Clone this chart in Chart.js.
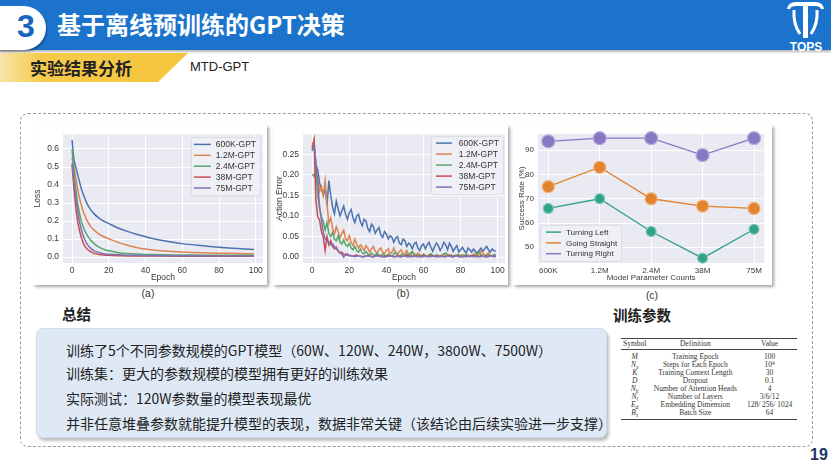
<!DOCTYPE html>
<html><head><meta charset="utf-8">
<script src="https://cdn.jsdelivr.net/npm/chart.js@4.4.1/dist/chart.umd.min.js"></script>
<style>
*{margin:0;padding:0;box-sizing:border-box}
body{width:831px;height:469px;overflow:hidden;background:#fff;font-family:"Noto Sans CJK SC","Noto Sans",sans-serif;position:relative}
.abs{position:absolute}
#topbar{left:0;top:0;width:831px;height:50px;background:#1b73cb;box-shadow:0 2px 2px rgba(0,0,0,0.28)}
#pill{left:-25px;top:6px;width:71px;height:44px;background:#fff;border-radius:22px;box-shadow:1px 2px 2px rgba(0,0,0,0.3)}
#num{left:12px;top:4px;width:28px;height:44px;font:bold 32px "Liberation Sans",Arial,sans-serif;color:#1864bf;line-height:44px;text-align:center}
#title{left:57px;top:8px;font-weight:bold;font-size:24px;color:#fff;line-height:32px;white-space:nowrap}
#tab{left:0;top:53px;width:188px;height:29px;background:linear-gradient(90deg,#f6e5a8 0%,#f5cb4c 22%,#f5c43a 100%);clip-path:polygon(0 0,188px 0,158px 100%,0 100%)}
#tabtxt{left:30px;top:53px;height:29px;line-height:29px;font-weight:bold;font-size:17px;color:#222;white-space:nowrap}
#sub{left:190px;top:59px;font:13px "Liberation Sans",Arial,sans-serif;color:#222}
#dash{left:20px;top:113px;width:793px;height:334px;border:1.5px dashed #9c9c9c;border-radius:8px}
.panel{background:#fff;box-shadow:2px 2px 3px rgba(0,0,0,0.35)}
.cap{font:10.5px "Liberation Sans",Arial,sans-serif;color:#333;width:40px;text-align:center;line-height:12px}
.h2{font-weight:bold;font-size:14.5px;color:#222;line-height:20px;white-space:nowrap}
#sumbox{left:36px;top:328px;width:571px;height:110px;background:#dfe9f6;border-radius:7px;box-shadow:2px 3px 3px rgba(0,0,0,0.25);border:1px solid #cddbed}
.line{left:66px;font-size:14px;color:#222;line-height:18px;white-space:nowrap}
#tbl{left:621px;top:338px;width:176px;height:82px;font-family:"Liberation Serif","DejaVu Serif",serif;font-size:7.5px;color:#333}
.rule{position:absolute;left:0;width:176px;background:#444}
.row{position:absolute;left:0;width:176px;height:8px;line-height:8px;display:flex;white-space:nowrap}
.c1{width:28px;text-align:center;font-style:italic}
.c2{width:96px;text-align:center}
.c3{width:56px;text-align:center}
.row.hd .c1{font-style:normal}
.sb{font-size:5.5px;position:relative;top:2px}
.sp{font-size:5.5px;position:relative;top:-2.5px}
#pg{left:810px;top:446px;font:bold 16px "Liberation Sans",Arial,sans-serif;color:#1d3763}
</style></head>
<body>
<div id="topbar" class="abs"></div>
<div id="pill" class="abs"></div>
<div id="num" class="abs">3</div>
<div id="title" class="abs">基于离线预训练的GPT决策</div>
<svg class="abs" style="left:780px;top:0" width="51" height="56" viewBox="0 0 51 56">
  <path d="M7,9 Q8,2 16,2 L35,2 Q43,2 44,9 L41,9 Q40,6 35,6 L16,6 Q11,6 10,9 Z" fill="#fff"/>
  <rect x="23" y="2" width="5" height="36" fill="#fff"/>
  <path d="M14,10 Q13,24 20,34" stroke="#fff" stroke-width="3" fill="none"/>
  <path d="M37,10 Q38,24 31,34" stroke="#fff" stroke-width="3" fill="none"/>
  <text x="26" y="51" text-anchor="middle" font-family="Liberation Sans, Arial" font-weight="bold" font-size="12" fill="#fff">TOPS</text>
</svg>
<div id="tab" class="abs"></div>
<div id="tabtxt" class="abs">实验结果分析</div>
<div id="sub" class="abs">MTD-GPT</div>
<div id="dash" class="abs"></div>

<div class="abs panel" style="left:33px;top:125px;width:234px;height:160px"><canvas id="ca" width="234" height="160"></canvas></div>
<div class="abs panel" style="left:273px;top:125px;width:235px;height:160px"><canvas id="cb" width="235" height="160"></canvas></div>
<div class="abs panel" style="left:513px;top:125px;width:259px;height:160px"><canvas id="cc" width="259" height="160"></canvas></div>
<div class="abs cap" style="left:128px;top:287px">(a)</div>
<div class="abs cap" style="left:383px;top:287px">(b)</div>
<div class="abs cap" style="left:632px;top:289px">(c)</div>

<div class="abs h2" style="left:62px;top:304px">总结</div>
<div id="sumbox" class="abs"></div>
<div class="abs line" style="top:341px">训练了5个不同参数规模的GPT模型（60W、120W、240W，3800W、7500W）</div>
<div class="abs line" style="top:364px">训练集：更大的参数规模的模型拥有更好的训练效果</div>
<div class="abs line" style="top:389px">实际测试：120W参数量的模型表现最优</div>
<div class="abs line" style="top:414px">并非任意堆叠参数就能提升模型的表现，数据非常关键（该结论由后续实验进一步支撑）</div>

<div class="abs h2" style="left:613px;top:305px">训练参数</div>
<div id="tbl" class="abs">
  <div class="rule" style="top:0;height:1px"></div>
  <div class="row hd" style="top:2px"><span class="c1">Symbol</span><span class="c2">Definition</span><span class="c3">Value</span></div>
  <div class="rule" style="top:11px;height:0.6px"></div>
  <div class="row" style="top:15px"><span class="c1">M</span><span class="c2">Training Epoch</span><span class="c3">100</span></div>
  <div class="row" style="top:23px"><span class="c1">N<span class="sb">s</span></span><span class="c2">Steps for Each Epoch</span><span class="c3">10<span class="sp">4</span></span></div>
  <div class="row" style="top:31px"><span class="c1">K</span><span class="c2">Training Context Length</span><span class="c3">30</span></div>
  <div class="row" style="top:39px"><span class="c1">D</span><span class="c2">Dropout</span><span class="c3">0.1</span></div>
  <div class="row" style="top:47px"><span class="c1">N<span class="sb">h</span></span><span class="c2">Number of Attention Heads</span><span class="c3">4</span></div>
  <div class="row" style="top:55px"><span class="c1">N<span class="sb">l</span></span><span class="c2">Number of Layers</span><span class="c3">3/6/12</span></div>
  <div class="row" style="top:63px"><span class="c1">E<span class="sb">d</span></span><span class="c2">Embedding Dimension</span><span class="c3">128/ 256/ 1024</span></div>
  <div class="row" style="top:71px"><span class="c1">B<span class="sb">s</span></span><span class="c2">Batch Size</span><span class="c3">64</span></div>
  <div class="rule" style="top:81px;height:1px"></div>
</div>
<div id="pg" class="abs">19</div>

<script>
// ---------- Data ----------
const modelNames = ['600K-GPT','1.2M-GPT','2.4M-GPT','38M-GPT','75M-GPT'];
const seriesColors = ['#4c72b0','#dd8452','#55a868','#c44e52','#8172b3'];

// (a) training loss
const lossEpochs = [0,1,2,3,4,5,6,7,8,10,12,14,16,18,20,25,30,35,40,45,50,60,70,80,90,99];
const loss600K = [0.650,0.540,0.500,0.460,0.420,0.380,0.350,0.325,0.300,0.265,0.240,0.222,0.207,0.196,0.186,0.162,0.143,0.127,0.113,0.101,0.091,0.075,0.064,0.055,0.048,0.043];
const loss1_2M = [0.550,0.500,0.440,0.380,0.330,0.290,0.255,0.230,0.205,0.172,0.150,0.133,0.120,0.110,0.102,0.082,0.066,0.054,0.045,0.039,0.034,0.028,0.024,0.022,0.020,0.019];
const loss2_4M = [0.600,0.470,0.380,0.300,0.245,0.200,0.170,0.145,0.125,0.095,0.075,0.060,0.049,0.041,0.035,0.025,0.020,0.017,0.015,0.014,0.013,0.012,0.011,0.011,0.010,0.010];
const loss38M  = [0.510,0.380,0.280,0.200,0.150,0.110,0.080,0.060,0.047,0.030,0.021,0.016,0.013,0.011,0.010,0.008,0.007,0.007,0.006,0.006,0.006,0.005,0.005,0.005,0.005,0.005];
const loss75M  = [0.520,0.420,0.330,0.260,0.200,0.155,0.120,0.095,0.075,0.050,0.035,0.027,0.022,0.018,0.016,0.013,0.011,0.010,0.009,0.009,0.008,0.008,0.007,0.007,0.007,0.007];
const lossXTicks = [0,20,40,60,80,100];
const lossYTicks = [0,0.1,0.2,0.3,0.4,0.5,0.6];

// (b) action error
const errEpochs = Array.from({length:100},(_,i)=>i);
const err600K = [
0.270,0.282,0.225,0.212,0.180,0.165,0.150,0.168,0.125,0.186,
0.150,0.122,0.105,0.136,0.118,0.100,0.112,0.124,0.104,0.092,
0.108,0.116,0.096,0.084,0.100,0.104,0.086,0.076,0.092,0.088,
0.070,0.062,0.080,0.074,0.058,0.066,0.072,0.054,0.048,0.062,
0.056,0.044,0.052,0.048,0.036,0.046,0.050,0.034,0.030,0.044,
0.040,0.026,0.034,0.030,0.020,0.032,0.036,0.022,0.016,0.028,
0.032,0.020,0.030,0.036,0.024,0.014,0.026,0.034,0.028,0.016,
0.024,0.036,0.030,0.018,0.034,0.026,0.014,0.022,0.028,0.012,
0.018,0.024,0.016,0.010,0.022,0.018,0.012,0.020,0.014,0.010,
0.016,0.022,0.014,0.020,0.026,0.018,0.012,0.020,0.016,0.014];
const err1_2M = [
0.268,0.286,0.205,0.192,0.160,0.172,0.150,0.186,0.128,0.082,
0.096,0.070,0.056,0.074,0.062,0.046,0.058,0.066,0.044,0.040,
0.052,0.036,0.028,0.044,0.032,0.022,0.030,0.024,0.016,0.028,
0.022,0.012,0.020,0.026,0.014,0.010,0.018,0.022,0.012,0.008,
0.016,0.020,0.008,0.012,0.022,0.010,0.006,0.014,0.018,0.006,
0.010,0.016,0.006,0.004,0.012,0.008,0.004,0.010,0.006,0.003,
0.008,0.004,0.002,0.006,0.008,0.003,0.002,0.006,0.004,0.002,
0.005,0.008,0.003,0.002,0.006,0.004,0.002,0.005,0.003,0.002,
0.004,0.006,0.003,0.002,0.005,0.003,0.002,0.006,0.010,0.004,
0.008,0.016,0.010,0.004,0.006,0.010,0.004,0.002,0.006,0.004];
const err2_4M = [
0.202,0.196,0.212,0.150,0.118,0.098,0.086,0.066,0.084,0.058,
0.050,0.060,0.044,0.040,0.052,0.036,0.032,0.042,0.030,0.026,
0.034,0.022,0.018,0.026,0.016,0.012,0.020,0.010,0.008,0.014,
0.008,0.005,0.010,0.006,0.004,0.009,0.005,0.003,0.007,0.004,
0.003,0.007,0.004,0.002,0.008,0.012,0.005,0.003,0.006,0.003,
0.005,0.008,0.004,0.010,0.014,0.006,0.003,0.005,0.004,0.003,
0.006,0.003,0.002,0.005,0.008,0.004,0.002,0.005,0.003,0.002,
0.004,0.007,0.010,0.006,0.003,0.005,0.003,0.002,0.005,0.006,
0.003,0.002,0.004,0.006,0.003,0.002,0.005,0.004,0.002,0.008,
0.012,0.006,0.003,0.002,0.004,0.006,0.003,0.002,0.006,0.005];
const err38M = [
0.262,0.284,0.140,0.098,0.090,0.062,0.048,0.016,0.050,0.030,
0.040,0.026,0.020,0.024,0.014,0.010,0.012,0.006,0.004,0.008,
0.005,0.003,0.002,0.004,0.005,0.003,0.002,0.001,0.002,0.003,
0.004,0.003,0.002,0.001,0.002,0.003,0.004,0.002,0.001,0.001,
0.002,0.004,0.003,0.002,0.001,0.002,0.003,0.002,0.001,0.002,
0.003,0.004,0.002,0.001,0.001,0.002,0.003,0.002,0.001,0.002,
0.003,0.002,0.001,0.002,0.004,0.003,0.001,0.001,0.002,0.003,
0.002,0.001,0.002,0.003,0.004,0.002,0.001,0.002,0.003,0.002,
0.001,0.001,0.002,0.003,0.002,0.001,0.002,0.004,0.003,0.001,
0.002,0.003,0.002,0.001,0.001,0.002,0.003,0.002,0.001,0.002];
const err75M = [
0.258,0.272,0.230,0.180,0.122,0.090,0.060,0.045,0.038,0.036,
0.030,0.032,0.026,0.020,0.016,0.012,0.006,0.000,0.008,0.005,
0.003,0.004,0.002,0.001,0.002,0.003,0.002,0.001,0.001,0.002,
0.003,0.002,0.001,0.001,0.002,0.003,0.002,0.001,0.002,0.001,
0.001,0.002,0.003,0.002,0.001,0.001,0.002,0.001,0.001,0.002,
0.002,0.001,0.001,0.002,0.003,0.002,0.001,0.001,0.002,0.001,
0.001,0.002,0.002,0.001,0.001,0.002,0.003,0.002,0.001,0.001,
0.002,0.001,0.001,0.002,0.002,0.001,0.001,0.002,0.003,0.001,
0.001,0.002,0.001,0.001,0.002,0.003,0.002,0.001,0.001,0.002,
0.001,0.001,0.002,0.002,0.001,0.001,0.002,0.003,0.002,0.001];
const errXTicks = [0,20,40,60,80,100];
const errYTicks = [0,0.05,0.10,0.15,0.20,0.25];

// (c) success rate
const paramCounts = ['600K','1.2M','2.4M','38M','75M'];
const turningLeft   = [66.0, 70.0, 56.5, 45.5, 57.4];
const goingStraight = [75.0, 83.0, 70.0, 67.0, 66.0];
const turningRight  = [93.7, 95.0, 95.0, 88.0, 95.0];
const successNames  = ['Turning Left','Going Straight','Turning Right'];
const successColors = ['#31a287','#e3822f','#8878c3'];
const successBorder = ['#7fcab8','#f0b07a','#b5aade'];
const successRadius = [5, 6, 6.5];
const successYTicks = [50,60,70,80,90];

// ---------- Chart helpers ----------
Chart.defaults.font.family = '"Liberation Sans", Arial, Helvetica, sans-serif';
Chart.defaults.font.size = 8;
Chart.defaults.color = '#3a3a3a';

const seabornBg = {
  id:'seabornBg',
  beforeDraw(chart){
    const {ctx, chartArea:a} = chart;
    ctx.save(); ctx.fillStyle = '#eaeaf2';
    ctx.fillRect(a.left, a.top, a.width, a.height); ctx.restore();
  }
};
const innerLegend = {
  id:'innerLegend',
  afterDraw(chart, args, o){
    const {ctx, chartArea:a} = chart;
    const ds = chart.data.datasets.slice().sort((p,q)=>p.legendIndex-q.legendIndex);
    ctx.save();
    ctx.font = o.fontSize + 'px "Liberation Sans", Arial, sans-serif';
    const tw = Math.max(...ds.map(d=>ctx.measureText(d.label).width));
    const w = o.textX + tw + 4;
    const h = o.first*2 + o.rowH*(ds.length-1);
    let x, y;
    if (o.pos === 'tr') { x = a.right - o.margin - w; y = a.top + o.margin; }
    else { x = a.left + o.margin; y = a.bottom - o.margin - h; }
    ctx.fillStyle = 'rgba(240,240,246,0.9)';
    ctx.strokeStyle = '#d6d6de'; ctx.lineWidth = 0.8;
    ctx.beginPath(); ctx.roundRect(x+0.5, y+0.5, w, h, 2); ctx.fill(); ctx.stroke();
    ds.forEach((d,i)=>{
      const cy = y + o.first + i*o.rowH;
      ctx.strokeStyle = d.borderColor; ctx.lineWidth = 1.5;
      ctx.beginPath(); ctx.moveTo(x+o.lineX0, cy); ctx.lineTo(x+o.lineX1, cy); ctx.stroke();
      ctx.fillStyle = '#333'; ctx.textBaseline = 'middle'; ctx.textAlign = 'left';
      ctx.fillText(d.label, x+o.textX, cy+0.5);
    });
    ctx.restore();
  }
};

function axis({min,max,ticks,fmt,title,size,fit,pad}) {
  return {
    type:'linear', min, max,
    afterBuildTicks: s => { s.ticks = ticks.map(v=>({value:v})); },
    afterFit: s => { if (s.isHorizontal()) s.height = fit; else s.width = fit; },
    grid:{color:'#ffffff', lineWidth:1, drawTicks:false},
    border:{display:false},
    ticks:{callback:fmt, padding:pad, autoSkip:false, maxRotation:0, font:{size}, color:'#3a3a3a'},
    title:{display:true, text:title, font:{size}, color:'#3a3a3a', padding:0}
  };
}

function lineSets(names, colors, series) {
  return series.map((s,i)=>({
    label:names[i], data:s, borderColor:colors[i], backgroundColor:colors[i],
    borderWidth:1.5, pointRadius:0, tension:0, order:names.length-i, legendIndex:i
  }));
}

// (a)
new Chart(document.getElementById('ca'), {
  type:'line',
  data:{
    datasets: lineSets(modelNames, seriesColors, [loss600K,loss1_2M,loss2_4M,loss38M,loss75M])
      .map(d=>({...d, data:d.data.map((v,i)=>({x:lossEpochs[i], y:v})), tension:0.3}))
  },
  options:{
    responsive:false, animation:false, devicePixelRatio:1,
    layout:{padding:{left:0, top:7, right:4, bottom:2}},
    plugins:{legend:{display:false}, tooltip:{enabled:false},
      innerLegend:{pos:'tr', margin:3, fontSize:8.5, first:7.3, rowH:10.9, lineX0:3, lineX1:20, textX:25}},
    scales:{
      x: axis({min:-4.95, max:103.95, ticks:lossXTicks, fmt:v=>String(v), title:'Epoch', size:8.5, fit:20, pad:3}),
      y: axis({min:-0.0325, max:0.6825, ticks:lossYTicks, fmt:v=>v.toFixed(1), title:'Loss', size:8.5, fit:30, pad:4})
    }
  },
  plugins:[seabornBg, innerLegend]
});

// (b)
new Chart(document.getElementById('cb'), {
  type:'line',
  data:{
    labels: errEpochs,
    datasets: lineSets(modelNames, seriesColors, [err600K,err1_2M,err2_4M,err38M,err75M])
  },
  options:{
    responsive:false, animation:false, devicePixelRatio:1,
    layout:{padding:{left:2, top:7, right:3, bottom:2}},
    plugins:{legend:{display:false}, tooltip:{enabled:false},
      innerLegend:{pos:'tr', margin:2, fontSize:8.5, first:7, rowH:11, lineX0:5, lineX1:21, textX:28}},
    scales:{
      x: axis({min:-4.95, max:103.95, ticks:errXTicks, fmt:v=>String(v), title:'Epoch', size:8.5, fit:20, pad:3}),
      y: axis({min:-0.0143, max:0.2993, ticks:errYTicks, fmt:v=>v.toFixed(2), title:'Action Error', size:8.5, fit:28, pad:4})
    }
  },
  plugins:[seabornBg, innerLegend]
});

// (c)
new Chart(document.getElementById('cc'), {
  type:'line',
  data:{
    datasets: [turningLeft, goingStraight, turningRight].map((s,i)=>({
      label:successNames[i],
      data:s.map((v,j)=>({x:j, y:v})),
      borderColor:successColors[i], backgroundColor:successColors[i],
      pointBackgroundColor:successColors[i], pointBorderColor:successBorder[i],
      pointBorderWidth:1.2, pointRadius:successRadius[i],
      borderWidth:1.3, tension:0, clip:false, order:3-i, legendIndex:i
    }))
  },
  options:{
    responsive:false, animation:false, devicePixelRatio:1,
    layout:{padding:{left:4, top:7, right:7, bottom:2}},
    plugins:{legend:{display:false}, tooltip:{enabled:false},
      innerLegend:{pos:'bl', margin:2, fontSize:8, first:7.3, rowH:10.8, lineX0:6, lineX1:21, textX:26}},
    scales:{
      x: axis({min:-0.2, max:4.2, ticks:paramCounts.map((_,i)=>i), fmt:v=>paramCounts[v], title:'Model Parameter Counts', size:8, fit:20, pad:3}),
      y: axis({min:43.5, max:96.8, ticks:successYTicks, fmt:v=>String(v), title:'Success Rate (%)', size:8, fit:21, pad:4})
    }
  },
  plugins:[seabornBg, innerLegend]
});
</script>
</body></html>
